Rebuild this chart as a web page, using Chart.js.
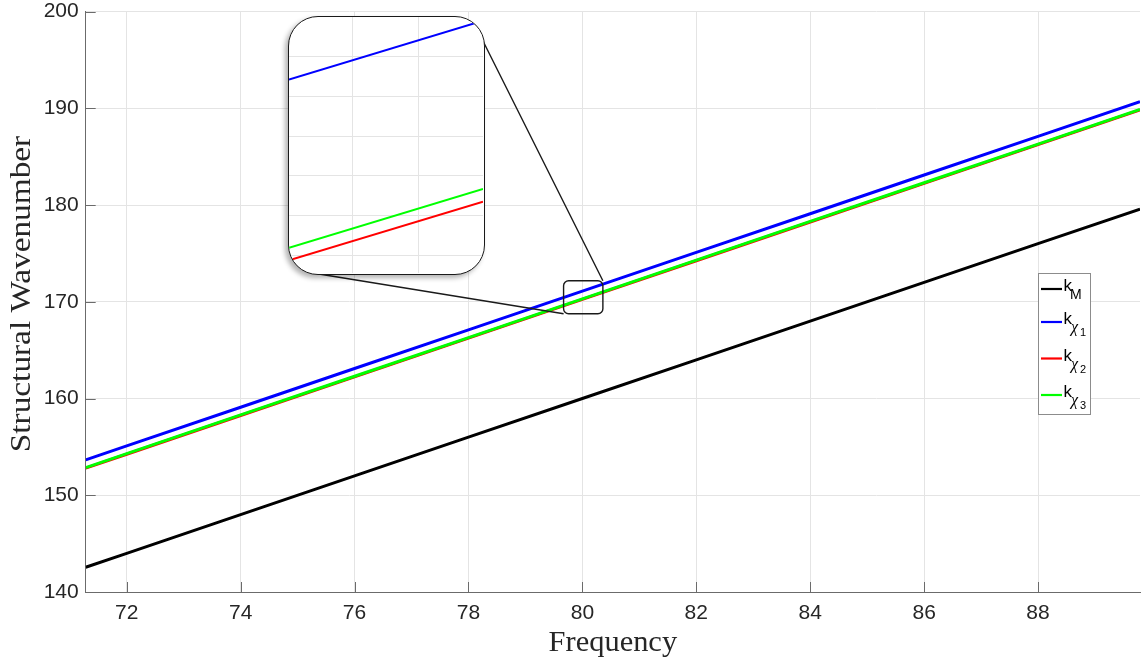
<!DOCTYPE html>
<html>
<head>
<meta charset="utf-8">
<script src="https://cdn.jsdelivr.net/npm/chart.js@4/dist/chart.umd.min.js"></script>
<style>
  html, body { margin: 0; padding: 0; background: #fff; }
  #wrap { position: relative; width: 1144px; height: 659px; overflow: hidden; }
  #main { position: absolute; left: 0; top: 0; }
  #inset {
    position: absolute; left: 288px; top: 16px; width: 197px; height: 259px;
    box-sizing: border-box; border: 1.6px solid #1a1a1a; border-radius: 30px;
    overflow: hidden; background: #fff;
    box-shadow: -3px 3px 5px rgba(0, 0, 0, 0.3);
  }
  #insetCanvas { display: block; }
</style>
</head>
<body>
<div id="wrap">
  <canvas id="main" width="1144" height="659"></canvas>
  <div id="inset"><canvas id="insetCanvas" width="194" height="256"></canvas></div>
</div>
<script>
// Structural wavenumber versus frequency
const frequency = [71.28, 72, 74, 76, 78, 80, 82, 84, 86, 88, 89.79];
const kM    = [142.56, 144.0, 148.0, 152.0, 156.0, 160.0, 164.0, 168.0, 172.0, 176.0, 179.58];
const kChi1 = [153.66, 155.1, 159.1, 163.1, 167.1, 171.1, 175.1, 179.1, 183.1, 187.1, 190.68];
const kChi2 = [152.80, 154.24, 158.24, 162.24, 166.24, 170.24, 174.24, 178.24, 182.24, 186.24, 189.82];
const kChi3 = [152.86, 154.3, 158.3, 162.3, 166.3, 170.3, 174.3, 178.3, 182.3, 186.3, 189.88];

const xRange = [71.28, 89.79];
const yRange = [140, 200];
const xTicks = [72, 74, 76, 78, 80, 82, 84, 86, 88];
const yTicks = [140, 150, 160, 170, 180, 190, 200];

// Magnified region (outline on the main axes) and the inset's own view
const boxFreq = [79.67, 80.36];
const boxWave = [168.76, 172.17];
const zoomFrequency = [79.93, 80.0696];
const zoomChi1 = [170.96, 171.239];
const zoomChi2 = [170.10, 170.379];
const zoomChi3 = [170.16, 170.439];
const zoomXRange = [79.93, 80.0696];
const zoomYRange = [170.04, 171.257];
const zoomXGrid = [79.976, 80.023];
const zoomYGrid = [170.125, 170.312, 170.503, 170.690, 170.880, 171.071];

const COLORS = { M: '#000000', chi1: '#0000ff', chi2: '#ff0000', chi3: '#00ff00' };
const SANS = '"Liberation Sans", Arial, Helvetica, sans-serif';
const SERIF = '"Liberation Serif", "Times New Roman", serif';
const GRID = '#e4e4e4';
const AXIS = '#6b6b6b';

const pts = (xs, ys) => xs.map((x, i) => ({ x: x, y: ys[i] }));

// Inward tick marks, axis titles, zoom outline with connectors, and legend
const decorPlugin = {
  id: 'decor',
  afterDatasetsDraw(chart) {
    const { ctx, chartArea: a, scales: { x, y } } = chart;
    ctx.save();
    // tick marks pointing into the plot
    ctx.strokeStyle = AXIS; ctx.lineWidth = 1;
    ctx.beginPath();
    xTicks.forEach(v => { const px = Math.round(x.getPixelForValue(v)) + 0.5; ctx.moveTo(px, a.bottom); ctx.lineTo(px, a.bottom - 10); });
    yTicks.forEach(v => { const py = Math.round(y.getPixelForValue(v)) + 0.5; ctx.moveTo(a.left, py); ctx.lineTo(a.left + 10, py); });
    ctx.stroke();

    // outline of the magnified region
    const x0 = x.getPixelForValue(boxFreq[0]), x1 = x.getPixelForValue(boxFreq[1]);
    const y0 = y.getPixelForValue(boxWave[1]), y1 = y.getPixelForValue(boxWave[0]);
    ctx.strokeStyle = '#1a1a1a'; ctx.lineWidth = 1.4;
    ctx.beginPath();
    ctx.roundRect(x0, y0, x1 - x0, y1 - y0, 5);
    ctx.stroke();
    // connectors to the inset frame
    ctx.beginPath();
    ctx.moveTo(x1, y0); ctx.lineTo(482, 39);
    ctx.moveTo(x0, y1); ctx.lineTo(319, 274);
    ctx.stroke();
    ctx.restore();
  },
  afterDraw(chart) {
    const { ctx, chartArea: a } = chart;
    ctx.save();
    // axis titles
    ctx.fillStyle = '#262626';
    ctx.font = '30px ' + SERIF;
    ctx.textAlign = 'center'; ctx.textBaseline = 'alphabetic';
    ctx.save();
    ctx.translate((a.left + a.right) / 2, 651);
    ctx.scale(1.015, 1);
    ctx.fillText('Frequency', 0, 0);
    ctx.restore();
    ctx.save();
    ctx.translate(30, 294);
    ctx.rotate(-Math.PI / 2);
    ctx.scale(1.11, 1);
    ctx.fillText('Structural Wavenumber', 0, 0);
    ctx.restore();

    // legend
    const lx = 1038, ly = 273, lw = 52, lh = 141;
    ctx.fillStyle = '#fff';
    ctx.fillRect(lx, ly, lw, lh);
    ctx.strokeStyle = '#8c8c8c'; ctx.lineWidth = 1;
    ctx.strokeRect(lx + 0.5, ly + 0.5, lw, lh);
    const entries = [
      { color: COLORS.M, sub: 'M', idx: '', dy: 16 },
      { color: COLORS.chi1, sub: 'χ', idx: '1', dy: 49 },
      { color: COLORS.chi2, sub: 'χ', idx: '2', dy: 85.5 },
      { color: COLORS.chi3, sub: 'χ', idx: '3', dy: 122 }
    ];
    ctx.textAlign = 'left';
    entries.forEach(e => {
      const cy = ly + e.dy;
      ctx.strokeStyle = e.color; ctx.lineWidth = 2.2;
      ctx.beginPath(); ctx.moveTo(lx + 3, cy); ctx.lineTo(lx + 24, cy); ctx.stroke();
      ctx.fillStyle = '#000';
      ctx.font = '17px ' + SANS;
      ctx.fillText('k', lx + 25.5, cy + 2.2);
      if (e.idx === '') {
        ctx.font = '14px ' + SANS;
        ctx.fillText(e.sub, lx + 32, cy + 10);
      } else {
        ctx.font = 'italic 16px ' + SERIF;
        ctx.fillText(e.sub, lx + 33, cy + 10);
        ctx.font = '11px ' + SANS;
        ctx.fillText(e.idx, lx + 42, cy + 14);
      }
    });
    ctx.restore();
  }
};

new Chart(document.getElementById('main'), {
  type: 'line',
  data: {
    datasets: [
      { label: 'k_M', data: pts(frequency, kM), borderColor: COLORS.M, order: 3 },
      { label: 'k_chi1', data: pts(frequency, kChi1), borderColor: COLORS.chi1, order: 2 },
      { label: 'k_chi2', data: pts(frequency, kChi2), borderColor: COLORS.chi2, order: 1 },
      { label: 'k_chi3', data: pts(frequency, kChi3), borderColor: COLORS.chi3, order: 0 }
    ]
  },
  options: {
    responsive: false,
    animation: false,
    layout: { padding: { top: 11.5, right: 4, left: 0, bottom: 0 } },
    elements: { point: { radius: 0 }, line: { borderWidth: 3, tension: 0, fill: false } },
    plugins: { legend: { display: false }, tooltip: { enabled: false } },
    scales: {
      x: {
        type: 'linear', min: xRange[0], max: xRange[1],
        afterBuildTicks: s => { s.ticks = xTicks.map(v => ({ value: v })); },
        afterFit: s => { s.height = 67; s.paddingLeft = 0; s.paddingRight = 0; },
        grid: { color: GRID, lineWidth: 1, drawTicks: false },
        border: { display: true, color: AXIS, width: 1 },
        ticks: { padding: 9, maxRotation: 0, color: '#262626', font: { family: SANS, size: 21, lineHeight: 1.2 } }
      },
      y: {
        type: 'linear', min: yRange[0], max: yRange[1],
        afterBuildTicks: s => { s.ticks = yTicks.map(v => ({ value: v })); },
        afterFit: s => { s.width = 85.7; s.paddingTop = 0; s.paddingBottom = 0; },
        grid: { color: GRID, lineWidth: 1, drawTicks: false },
        border: { display: true, color: AXIS, width: 1 },
        ticks: { padding: 7, color: '#262626', font: { family: SANS, size: 21, lineHeight: 1 } }
      }
    }
  },
  plugins: [decorPlugin]
});

// Inset: magnified view of the three χ curves
new Chart(document.getElementById('insetCanvas'), {
  type: 'line',
  data: {
    datasets: [
      { data: pts(zoomFrequency, zoomChi1), borderColor: COLORS.chi1, order: 2 },
      { data: pts(zoomFrequency, zoomChi2), borderColor: COLORS.chi2, order: 1 },
      { data: pts(zoomFrequency, zoomChi3), borderColor: COLORS.chi3, order: 0 }
    ]
  },
  options: {
    responsive: false,
    animation: false,
    layout: { padding: 0 },
    elements: { point: { radius: 0 }, line: { borderWidth: 2, tension: 0, fill: false } },
    plugins: { legend: { display: false }, tooltip: { enabled: false } },
    scales: {
      x: {
        type: 'linear', min: zoomXRange[0], max: zoomXRange[1],
        afterBuildTicks: s => { s.ticks = zoomXGrid.map(v => ({ value: v })); },
        afterFit: s => { s.height = 0; },
        grid: { color: GRID, lineWidth: 1, drawTicks: false },
        border: { display: false },
        ticks: { display: false }
      },
      y: {
        type: 'linear', min: zoomYRange[0], max: zoomYRange[1],
        afterBuildTicks: s => { s.ticks = zoomYGrid.map(v => ({ value: v })); },
        afterFit: s => { s.width = 0; },
        grid: { color: GRID, lineWidth: 1, drawTicks: false },
        border: { display: false },
        ticks: { display: false }
      }
    }
  }
});
</script>
</body>
</html>
